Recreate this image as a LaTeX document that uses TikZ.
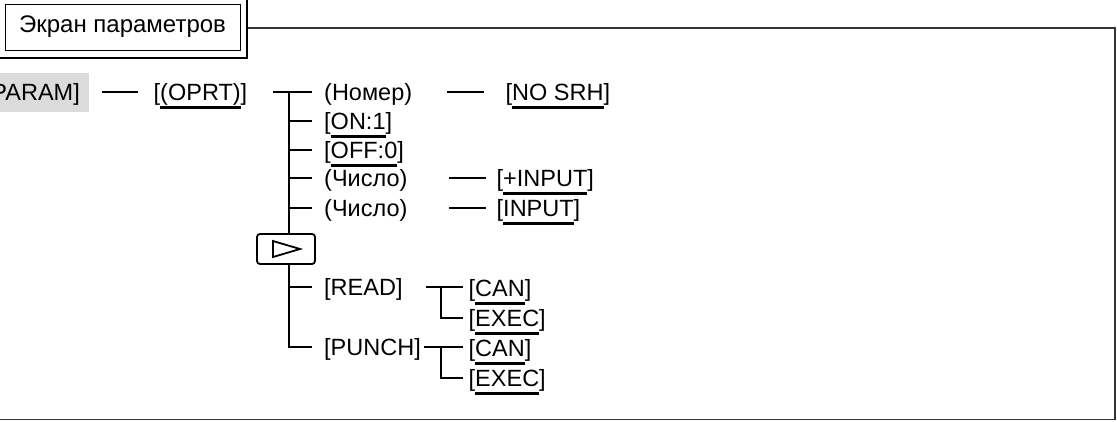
\documentclass[tikz,border=0pt]{standalone}
\usepackage{fontspec}
\setmainfont{Liberation Sans}
\usetikzlibrary{positioning,calc}
\newsavebox\ukeybox
\newcommand\ukey[1]{\sbox\ukeybox{#1}\rlap{\rule[-8.5pt]{\wd\ukeybox}{3pt}}\usebox\ukeybox}
\tikzset{
    menuitem/.style={anchor=west, inner sep=0pt, text height=17pt, text depth=0pt, font=\fontsize{23.5}{28}\selectfont},
    menulink/.style={line width=1.8pt},
    menuframe/.style={line width=1.7pt, draw=black!80},
    menutitle/.style={draw, line width=0.8pt, inner sep=0pt, minimum width=235pt, minimum height=46pt, font=\fontsize{24}{28}\selectfont},
    menunext/.style={draw, rounded corners=3pt, line width=1.8pt, inner sep=0pt, minimum width=58pt, minimum height=30pt}
}
\begin{document}
\begin{tikzpicture}[x=1pt, y=-1pt]
    \useasboundingbox (0,0) rectangle (1117,421);
    % frame and title
    \draw[menuframe] (-10,28) rectangle (1115,419.5);
    \draw[line width=2.4pt, fill=white] (-10,-10) rectangle (247,58);
    \node[menutitle] (title) at (122.5,27) {Экран параметров};

    % first level
    \node[menuitem, anchor=east, fill=black!14, minimum height=39pt, inner xsep=9pt] (param) at (89,92) {[PARAM]};
    \node[menuitem] (oprt) at (153.5,92) {[\ukey{(OPRT)}]};
    \draw[menulink, shorten <=13pt, shorten >=16pt] (param.east) -- (oprt.west);

    % operation keys
    \node[menuitem] (nomer) at (324,92) {(Номер)};
    \node[menuitem] (nosrh) at (505.5,92) {[\ukey{NO SRH}]};
    \node[menuitem] (on) at (324,121) {[\ukey{ON:1}]};
    \node[menuitem] (off) at (324,150) {[\ukey{OFF:0}]};
    \node[menuitem] (num1) at (324,178) {(Число)};
    \node[menuitem] (num2) at (324,208) {(Число)};
    \node[menuitem] (incr) at (496.5,178) {[\ukey{+INPUT}]};
    \node[menuitem] (inp) at (496.5,208) {[\ukey{INPUT}]};
    \node[menunext] (nextkey) at (286,249) {};
    \draw[line width=1.8pt] ($(nextkey)+(-13,-8)$) -- ++(27,8) -- ++(-27,8) -- cycle;
    \node[menuitem] (read) at (324,287) {[READ]};
    \node[menuitem] (punch) at (324,347) {[PUNCH]};
    \node[menuitem] (can1) at (468.5,288) {[\ukey{CAN}]};
    \node[menuitem] (exec1) at (468.5,318) {[\ukey{EXEC}]};
    \node[menuitem] (can2) at (468.5,348) {[\ukey{CAN}]};
    \node[menuitem] (exec2) at (468.5,378) {[\ukey{EXEC}]};

    % tree
    \coordinate (trunk) at (289,92);
    \coordinate (col) at (447,0);
    \draw[menulink] ([xshift=-51pt]nomer.west) -- ([xshift=-12pt]nomer.west);
    \draw[menulink] (trunk) -- (trunk |- nextkey.north);
    \draw[menulink] (trunk |- nextkey.south) |- ([xshift=-12pt]punch.west);
    \foreach \n in {on,off,num1,num2,read}
        \draw[menulink] (trunk |- \n) -- ([xshift=-12pt]\n.west);
    \draw[menulink] (col |- nomer) -- ([xshift=-22pt]nosrh.west);
    \foreach \a/\b in {num1/incr,num2/inp}
        \draw[menulink] ([xshift=2pt]col |- \a) -- ([xshift=-11pt]\b.west);

    % read / punch
    \draw[menulink, shorten <=23pt] (read.east) -- ([xshift=-6pt]can1.west |- read);
    \draw[menulink] ([xshift=-27.5pt]can1.west |- read) |- ([xshift=-6pt]exec1.west);
    \draw[menulink, shorten <=2.5pt] (punch.east) -- ([xshift=-6pt]can2.west |- punch);
    \draw[menulink] ([xshift=-27.5pt]can2.west |- punch) |- ([xshift=-6pt]exec2.west);
\end{tikzpicture}
\end{document}
